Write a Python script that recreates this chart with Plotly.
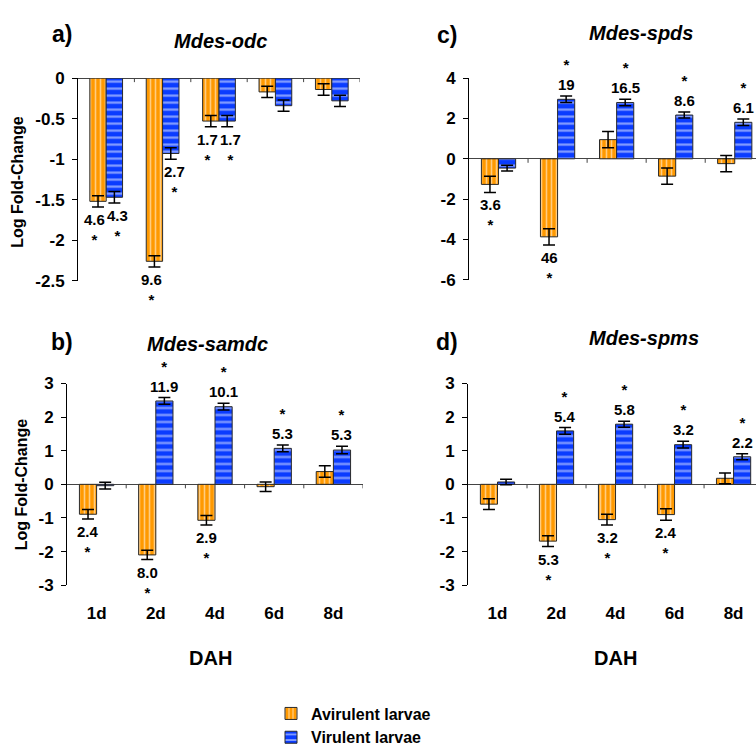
import plotly.graph_objects as go

W, H = 756, 755

categories = ["1d", "2d", "4d", "6d", "8d"]

# a) Mdes-odc
odc_avir = [-1.52, -2.26, -0.53, -0.17, -0.14]
odc_avir_err = [0.07, 0.07, 0.07, 0.07, 0.07]
odc_vir = [-1.47, -0.93, -0.53, -0.34, -0.28]
odc_vir_err = [0.07, 0.07, 0.07, 0.07, 0.07]
odc_avir_fc = ["4.6", "9.6", "1.7", "", ""]
odc_vir_fc = ["4.3", "2.7", "1.7", "", ""]

# b) Mdes-samdc
samdc_avir = [-0.89, -2.10, -1.07, -0.07, 0.38]
samdc_avir_err = [0.14, 0.14, 0.14, 0.14, 0.17]
samdc_vir = [-0.04, 2.48, 2.31, 1.07, 1.02]
samdc_vir_err = [0.10, 0.10, 0.10, 0.10, 0.11]
samdc_avir_fc = ["2.4", "8.0", "2.9", "", ""]
samdc_vir_fc = ["", "11.9", "10.1", "5.3", "5.3"]

# c) Mdes-spds
spds_avir = [-1.27, -3.87, 0.95, -0.86, -0.24]
spds_avir_err = [0.40, 0.40, 0.40, 0.40, 0.40]
spds_vir = [-0.46, 2.95, 2.79, 2.17, 1.81]
spds_vir_err = [0.14, 0.16, 0.16, 0.15, 0.16]
spds_avir_fc = ["3.6", "46", "", "", ""]
spds_vir_fc = ["", "19", "16.5", "8.6", "6.1"]

# d) Mdes-spms
spms_avir = [-0.59, -1.69, -1.05, -0.90, 0.18]
spms_avir_err = [0.16, 0.16, 0.16, 0.17, 0.16]
spms_vir = [0.07, 1.59, 1.79, 1.18, 0.82]
spms_vir_err = [0.08, 0.10, 0.09, 0.10, 0.09]
spms_avir_fc = ["", "5.3", "3.2", "2.4", ""]
spms_vir_fc = ["", "5.4", "5.8", "3.2", "2.2"]

odc_ticks = [0, -0.5, -1, -1.5, -2, -2.5]
odc_ticktext = ["0", "-0.5", "-1", "-1.5", "-2", "-2.5"]
spds_ticks = [4, 2, 0, -2, -4, -6]
spds_ticktext = ["4", "2", "0", "-2", "-4", "-6"]
pm3_ticks = [3, 2, 1, 0, -1, -2, -3]
pm3_ticktext = ["3", "2", "1", "0", "-1", "-2", "-3"]

panel_letters = ["a)", "b)", "c)", "d)"]
gene_names = ["Mdes-odc", "Mdes-samdc", "Mdes-spds", "Mdes-spms"]
series_names = ["Avirulent larvae", "Virulent larvae"]

ORANGE = "#FF9900"
BLUE = "#0A3CFF"
FONT = "Liberation Sans, Arial, Helvetica, sans-serif"

panels = [
    dict(ax="", avir=odc_avir, avir_err=odc_avir_err, vir=odc_vir, vir_err=odc_vir_err,
         afc=odc_avir_fc, vfc=odc_vir_fc, ticks=odc_ticks, ticktext=odc_ticktext,
         yrange=[-2.5, 0], xrange=[-0.5, 4.5],
         xdom=[78 / W, 360 / W], ydom=[1 - 283 / H, 1 - 72 / H], xlabels=False),
    dict(ax="2", avir=samdc_avir, avir_err=samdc_avir_err, vir=samdc_vir, vir_err=samdc_vir_err,
         afc=samdc_avir_fc, vfc=samdc_vir_fc, ticks=pm3_ticks, ticktext=pm3_ticktext,
         yrange=[-3, 3], xrange=[-0.5, 4.5],
         xdom=[67 / W, 363 / W], ydom=[1 - 600 / H, 1 - 390 / H], xlabels=True),
    dict(ax="3", avir=spds_avir, avir_err=spds_avir_err, vir=spds_vir, vir_err=spds_vir_err,
         afc=spds_avir_fc, vfc=spds_vir_fc, ticks=spds_ticks, ticktext=spds_ticktext,
         yrange=[-6, 4], xrange=[-0.5, 4.36],
         xdom=[469 / W, 1.0], ydom=[1 - 282 / H, 1 - 72 / H], xlabels=False),
    dict(ax="4", avir=spms_avir, avir_err=spms_avir_err, vir=spms_vir, vir_err=spms_vir_err,
         afc=spms_avir_fc, vfc=spms_vir_fc, ticks=pm3_ticks, ticktext=pm3_ticktext,
         yrange=[-3, 3], xrange=[-0.5, 4.38],
         xdom=[468 / W, 1.0], ydom=[1 - 600 / H, 1 - 390 / H], xlabels=True),
]

fig = go.Figure()
annotations = []
shapes = []
layout_axes = {}

for i, p in enumerate(panels):
    xa = "x" + p["ax"]
    ya = "y" + p["ax"]
    for s, (vals, errs, color, shape, size, name) in enumerate([
        (p["avir"], p["avir_err"], ORANGE, "|", 5, series_names[0]),
        (p["vir"], p["vir_err"], BLUE, "-", 7, series_names[1]),
    ]):
        fig.add_trace(go.Bar(
            x=categories, y=vals, name="<b>" + name + "</b>", xaxis=xa, yaxis=ya,
            showlegend=(i == 0), legendgroup=name,
            marker=dict(color=color, line=dict(color="#2a2a2a", width=1),
                        pattern=dict(shape=shape, fillmode="overlay", bgcolor=color,
                                     fgcolor="white", size=size, solidity=0.32)),
            error_y=dict(type="data", array=errs, color="black", thickness=1.5, width=6),
        ))
    # fold-change labels with significance stars
    series = [(p["avir"], p["avir_err"], p["afc"]), (p["vir"], p["vir_err"], p["vfc"])]
    for s, (vals, errs, fcs) in enumerate(series):
        other_vals, _, other_fcs = series[1 - s]
        for j, (c, v, e, fc) in enumerate(zip(categories, vals, errs, fcs)):
            if not fc:
                continue
            neg = v < 0
            crowded = bool(other_fcs[j]) and ((other_vals[j] < 0) == neg)
            off = 11.5 if crowded else 8.5
            dx = -off if s == 0 else off
            yend = v - e if neg else v + e
            if neg:
                txt = fc + "<br>*"
                anchor, ysh = "top", -2
            else:
                txt = "*<br>" + fc
                anchor, ysh = "bottom", 1
            annotations.append(dict(x=c, y=yend, xref=xa, yref=ya, text=txt, showarrow=False,
                                    xshift=dx, yshift=ysh, yanchor=anchor, align="center",
                                    font=dict(family=FONT, size=15, color="black", weight="bold")))
    # category boundary ticks on the zero line
    for k in range(len(categories)):
        bx = k + 0.5
        if bx > p["xrange"][1]:
            continue
        shapes.append(dict(type="line", xref=xa, yref=ya, x0=bx, x1=bx,
                           ysizemode="pixel", yanchor=0, y0=0, y1=-4,
                           line=dict(color="#444", width=1)))

    layout_axes["xaxis" + p["ax"]] = dict(
        domain=p["xdom"], anchor=ya, type="category", range=p["xrange"],
        showline=False, showgrid=False, zeroline=False, ticks="",
        showticklabels=p["xlabels"], ticklabelstandoff=16,
        tickfont=dict(family=FONT, size=17, color="black", weight="bold"),
    )
    layout_axes["yaxis" + p["ax"]] = dict(
        domain=p["ydom"], anchor=xa, range=p["yrange"],
        tickvals=p["ticks"], ticktext=p["ticktext"],
        showline=True, linecolor="black", linewidth=1,
        ticks="outside", ticklen=5, tickcolor="black", ticklabelstandoff=4,
        showgrid=False, zeroline=True, zerolinecolor="#444", zerolinewidth=1,
        tickfont=dict(family=FONT, size=17, color="black", weight="bold"),
    )

# panel letters and gene titles
letter_pos = [(62, 26), (62, 347), (447, 27), (447, 347)]
title_pos = [(220, 33), (207, 349), (641, 25), (644, 343)]
for letter, (lx, ly), gene, (tx, ty) in zip(panel_letters, letter_pos, gene_names, title_pos):
    annotations.append(dict(x=lx / W, y=1 - ly / H, xref="paper", yref="paper", text=letter,
                            showarrow=False, xanchor="center", yanchor="middle",
                            font=dict(family=FONT, size=23, color="black", weight="bold")))
    annotations.append(dict(x=tx / W, y=1 - ty / H, xref="paper", yref="paper", text=gene,
                            showarrow=False, xanchor="center", yanchor="middle",
                            font=dict(family=FONT, size=20, color="black", weight="bold",
                                      style="italic")))

# axis titles
for (yx, yy) in [(18, 180), (21, 495)]:
    annotations.append(dict(x=yx / W, y=1 - yy / H, xref="paper", yref="paper",
                            text="Log Fold-Change", textangle=-90, showarrow=False,
                            xanchor="center", yanchor="middle",
                            font=dict(family=FONT, size=16, color="black", weight="bold")))
for (dx_, dy_) in [(210, 676), (615, 676)]:
    annotations.append(dict(x=dx_ / W, y=1 - dy_ / H, xref="paper", yref="paper",
                            text="DAH", showarrow=False, xanchor="center", yanchor="middle",
                            font=dict(family=FONT, size=20, color="black", weight="bold")))

fig.update_layout(
    width=W, height=H,
    margin=dict(l=0, r=0, t=0, b=0),
    paper_bgcolor="white", plot_bgcolor="white",
    barmode="group", bargap=0.42, bargroupgap=0,
    font=dict(family=FONT, color="black"),
    showlegend=True,
    legend=dict(x=271 / W, y=1 - 716 / H, xanchor="left", yanchor="top",
                orientation="v", bgcolor="rgba(0,0,0,0)", tracegroupgap=0,
                font=dict(family=FONT, size=16, color="black", weight="bold")),
    annotations=annotations,
    shapes=shapes,
    **layout_axes,
)

fig.write_html("out.html", config={"displayModeBar": False},
               post_script="document.body.style.margin='0px';document.body.style.overflow='hidden';")
